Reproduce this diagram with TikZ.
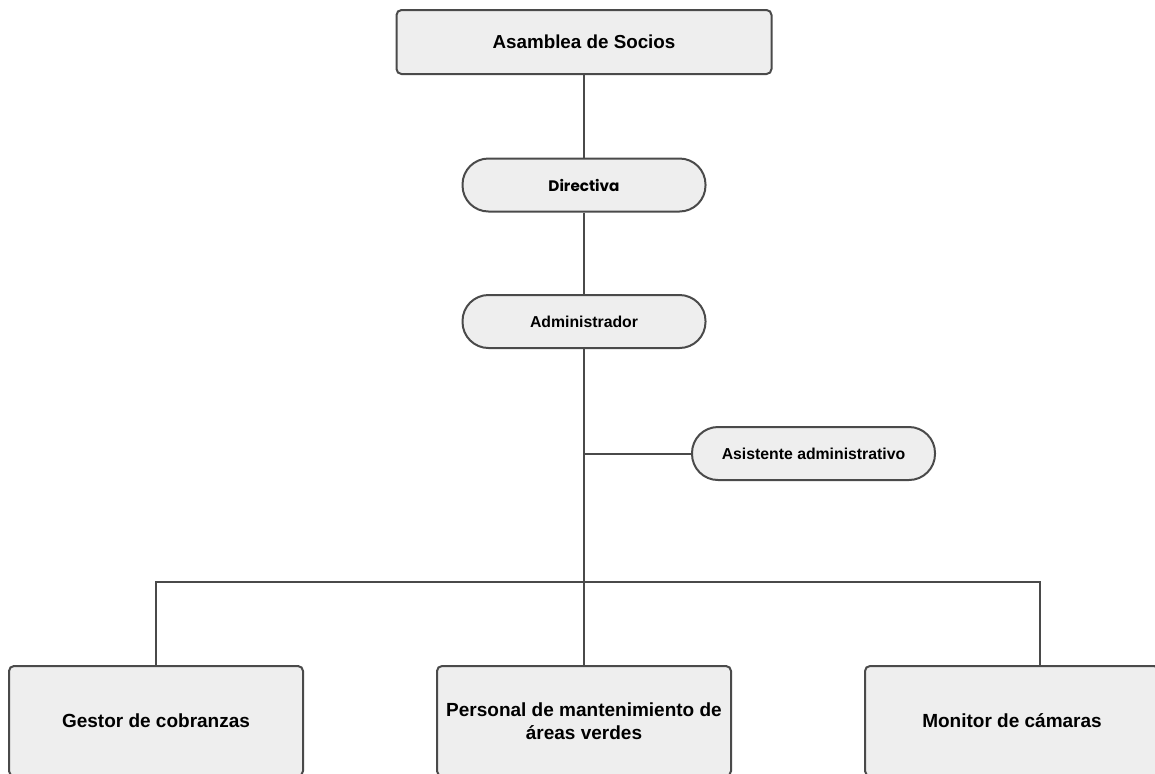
\documentclass[tikz,border=0pt]{standalone}
\usepackage{fontspec}
\setmainfont{Liberation Sans}
\newfontfamily\dirfont{Poppins}
\usepackage{tikz}
\usetikzlibrary{positioning}
\definecolor{boxgray}{HTML}{EEEEEE}
\definecolor{linegray}{HTML}{4A4A4A}
\tikzstyle{topbox} = [rectangle, rounded corners=2.5pt, minimum width=187.5pt, minimum height=32pt, text centered, draw=linegray, fill=boxgray, line width=1pt, font=\fontsize{9.4pt}{11pt}\selectfont\bfseries]
\tikzstyle{pill} = [rectangle, rounded corners=13pt, minimum width=121.5pt, minimum height=26.5pt, text centered, draw=linegray, fill=boxgray, line width=1pt, font=\fontsize{7.9pt}{9.5pt}\selectfont\bfseries]
\tikzstyle{unit} = [rectangle, rounded corners=2.5pt, minimum width=147pt, minimum height=55pt, align=center, draw=linegray, fill=boxgray, line width=1pt, font=\fontsize{9.5pt}{11.5pt}\selectfont\bfseries]
\tikzstyle{line} = [line width=1pt, draw=linegray]

\begin{document}
\begin{tikzpicture}[x=0.5pt, y=-0.5pt, node distance=70pt]
\useasboundingbox (0,0) rectangle (1155,773);
\node (asamblea) [topbox] at (584,42) {Asamblea de Socios};
\node (directiva) [pill, below of=asamblea, yshift=-1.5pt, font=\dirfont\fontsize{7.6pt}{9pt}\selectfont\bfseries] {Directiva};
\node (admin) [pill, below of=directiva, yshift=1.75pt] {Administrador};
\node (asistente) [pill, below of=admin, xshift=114.75pt, yshift=4pt] {Asistente administrativo};
\node (personal) [unit, node distance=199.75pt, below of=admin] {Personal de mantenimiento de\\ áreas verdes};
\node (gestor) [unit, node distance=214pt, left of=personal] {Gestor de cobranzas};
\node (monitor) [unit, node distance=214pt, right of=personal] {Monitor de cámaras};

\coordinate (branch) at (admin |- asistente);
\coordinate (busR) at (1040,582);

\draw [line] (asamblea) -- (directiva);
\draw [line] (directiva) -- (admin);
\draw [line] (admin) -- (personal);
\draw [line] (branch) -- (asistente);
\draw [line] (gestor) |- (busR) -- (busR |- monitor.north);
\end{tikzpicture}
\end{document}
